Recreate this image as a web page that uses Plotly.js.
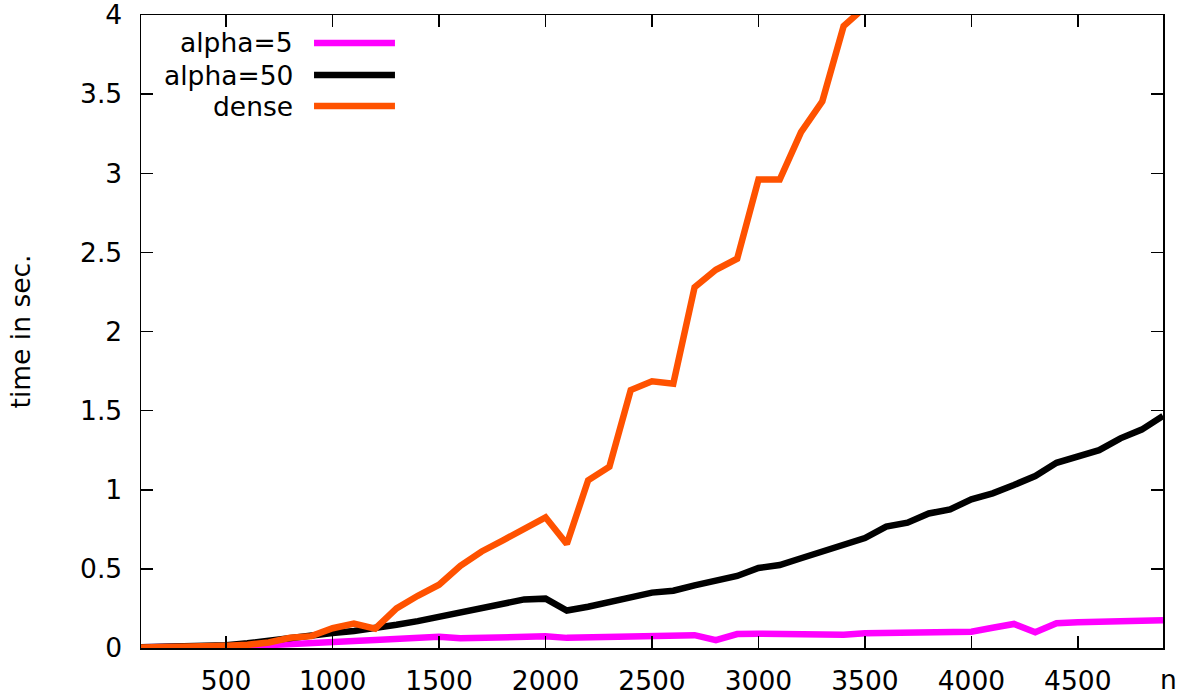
<!DOCTYPE html>
<html>
<head>
<meta charset="utf-8">
<script src="https://cdn.plot.ly/plotly-3.0.1.min.js"></script>
<style>html,body{margin:0;padding:0;background:#fff;}#chart{width:1180px;height:695px;}</style>
</head>
<body>
<div id="chart"></div>
<script>
// n values
const n = [100,200,300,400,500,600,700,800,900,1000,1100,1200,1300,1400,1500,1600,1700,1800,1900,2000,
           2100,2200,2300,2400,2500,2600,2700,2800,2900,3000,3100,3200,3300,3400,3500,3600,3700,3800,3900,4000,
           4100,4200,4300,4400,4500,4600,4700,4800,4900];

const alpha5 = [0.005,0.005,0.007,0.008,0.010,0.013,0.018,0.022,0.028,0.034,0.044,0.050,0.055,0.061,0.071,0.061,0.062,0.063,0.067,0.074,
                0.064,0.066,0.069,0.077,0.077,0.078,0.081,0.050,0.088,0.090,0.090,0.080,0.084,0.084,0.093,0.097,0.097,0.101,0.101,0.103,
                0.128,0.152,0.099,0.156,0.163,0.164,0.166,0.170,0.175];

const alpha50 = [0.005,0.006,0.008,0.012,0.018,0.030,0.048,0.062,0.075,0.095,0.108,0.125,0.147,0.170,0.198,0.225,0.250,0.278,0.307,0.312,
                 0.237,0.261,0.286,0.320,0.350,0.362,0.396,0.425,0.455,0.506,0.524,0.567,0.609,0.645,0.695,0.767,0.792,0.850,0.876,0.940,
                 0.977,1.030,1.087,1.170,1.210,1.250,1.325,1.380,1.466];

const dense = [0.003,0.004,0.006,0.010,0.015,0.020,0.035,0.065,0.075,0.125,0.155,0.122,0.250,0.330,0.400,0.520,0.610,0.680,0.750,0.826,
               0.657,1.060,1.146,1.630,1.685,1.670,2.280,2.390,2.460,2.960,2.960,3.260,3.455,3.930,4.050];

const seriesNames = ["alpha=5", "alpha=50", "dense"];
const seriesColors = ["#ff00ff", "#000000", "#ff5200"];
const yTicks = [0,0.5,1,1.5,2,2.5,3,3.5,4];
const xTicks = [500,1000,1500,2000,2500,3000,3500,4000,4500];

const font = {family: "DejaVu Sans, sans-serif", size: 26.5, color: "#000"};
const LW = 6.5;

const data = [
  {x: n, y: alpha5, type: "scatter", mode: "lines", name: seriesNames[0], line: {color: seriesColors[0], width: LW}},
  {x: n, y: alpha50, type: "scatter", mode: "lines", name: seriesNames[1], line: {color: seriesColors[1], width: LW}},
  {x: n.slice(0, dense.length), y: dense, type: "scatter", mode: "lines", name: seriesNames[2], line: {color: seriesColors[2], width: LW}}
];

// gnuplot-style legend: text right-aligned, sample line to the right
const legY = [0.9558, 0.9052, 0.8562];
const annotations = seriesNames.map((s, i) => ({
  xref: "paper", yref: "paper", x: 0.1507, y: legY[i], xanchor: "right", yanchor: "middle",
  text: s, showarrow: false, font: font
}));
annotations.push({
  xref: "paper", yref: "paper", x: 1.0058, y: 0, xanchor: "center", yanchor: "middle", yshift: -31,
  text: "n", showarrow: false, font: font, borderpad: 0
});
const shapes = seriesNames.map((s, i) => ({
  type: "line", xref: "paper", yref: "paper", x0: 0.1693, x1: 0.2485, y0: legY[i], y1: legY[i],
  line: {color: seriesColors[i], width: LW}
}));

const layout = {
  width: 1180, height: 695,
  margin: {l: 141, r: 17, t: 15, b: 47},
  paper_bgcolor: "#fff", plot_bgcolor: "#fff",
  showlegend: false,
  font: font,
  xaxis: {
    range: [100, 4900], tickvals: xTicks, ticktext: xTicks.map(String),
    ticks: "inside", ticklen: 12, tickwidth: 1.5, tickcolor: "#000",
    showline: true, linecolor: "#000", linewidth: 1.5, mirror: "ticks",
    showgrid: false, zeroline: false, ticklabelstandoff: 9, tickfont: font,
    ticklabeloverflow: "allow"
  },
  yaxis: {
    range: [0, 4], tickvals: yTicks, ticktext: yTicks.map(String),
    ticks: "inside", ticklen: 12, tickwidth: 1.5, tickcolor: "#000",
    showline: true, linecolor: "#000", linewidth: 1.5, mirror: "ticks",
    showgrid: false, zeroline: false, ticklabelstandoff: 12, tickfont: font,
    ticklabeloverflow: "allow",
    title: {text: "time in sec.", font: font, standoff: 42}
  },
  annotations: annotations,
  shapes: shapes
};

Plotly.newPlot("chart", data, layout, {displayModeBar: false, staticPlot: true});
</script>
</body>
</html>
